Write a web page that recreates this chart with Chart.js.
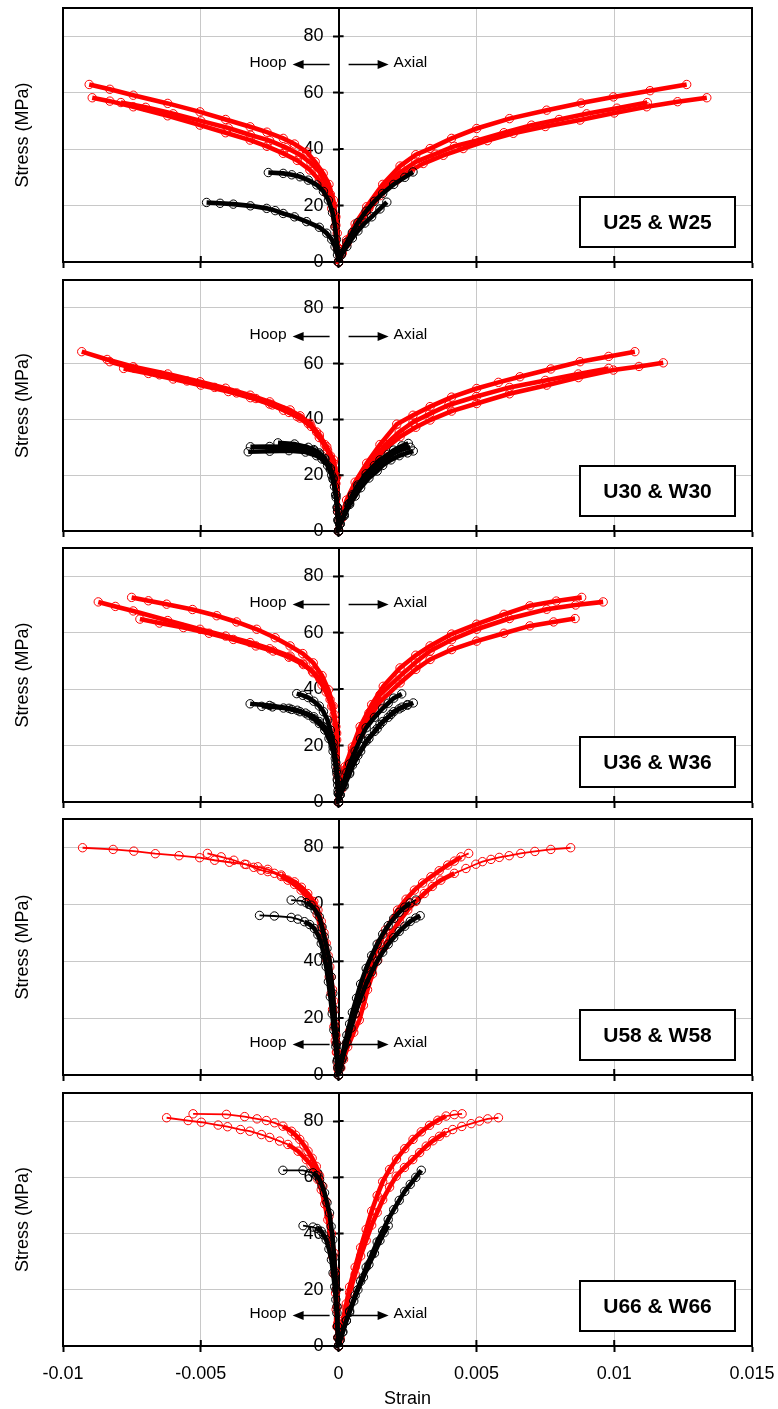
<!DOCTYPE html>
<html>
<head>
<meta charset="utf-8">
<script src="https://cdn.jsdelivr.net/npm/chart.js@4.4.1/dist/chart.umd.min.js"></script>
<style>
  body { margin: 0; background: #fff; width: 778px; height: 1409px; position: relative; overflow: hidden; }
  canvas { position: absolute; left: 0; }
</style>
</head>
<body>
<canvas id="c1"></canvas>
<canvas id="c2"></canvas>
<canvas id="c3"></canvas>
<canvas id="c4"></canvas>
<canvas id="c5"></canvas>
<script>
// axis ticks
const strainTicks = [-0.01, -0.005, 0, 0.005, 0.01, 0.015];
const stressTicks = [0, 20, 40, 60, 80];
const panelLabels = ['U25 & W25', 'U30 & W30', 'U36 & W36', 'U58 & W58', 'U66 & W66'];

// ---- U25 & W25 : [strain, stress MPa]
const red25Hoop1 = [[0,0],[-0.00002,5],[-0.00005,10.2],[-0.0001,16],[-0.00019,21.9],[-0.00035,27.5],[-0.00056,31.4],[-0.00085,35.5],[-0.00116,39],[-0.0016,41.8],[-0.00201,43.8],[-0.0026,46],[-0.00321,47.9],[-0.0041,50.5],[-0.00503,53.2],[-0.0062,56.2],[-0.00745,59.1],[-0.0083,61.2],[-0.00905,62.9]];
const red25Hoop2 = [[0,0],[-0.00004,5],[-0.00013,12.5],[-0.00025,19],[-0.00043,24.3],[-0.0007,29],[-0.00104,32.6],[-0.0015,36],[-0.00201,38.5],[-0.0026,41],[-0.00321,43.2],[-0.0041,45.8],[-0.00503,48.5],[-0.0062,51.8],[-0.00745,55],[-0.0083,57],[-0.00894,58.2]];
const red25Hoop3 = [[0,0],[-0.00003,5],[-0.0001,13],[-0.0002,20],[-0.0003,24],[-0.0005,28.5],[-0.0007,32],[-0.001,35],[-0.0014,38],[-0.0019,40.5],[-0.0025,43],[-0.0032,45],[-0.004,47.5],[-0.005,50],[-0.006,52.5],[-0.007,54.8],[-0.0079,56.5]];
const red25Axial1 = [[0,0],[0.00012,3.5],[0.00029,7.8],[0.0006,13.5],[0.00102,19.6],[0.0016,27.5],[0.00223,34],[0.0028,38],[0.00332,40.2],[0.0041,43.8],[0.00501,47.3],[0.0062,50.8],[0.00755,53.8],[0.0088,56.3],[0.00997,58.5],[0.0113,60.7],[0.01263,62.9]];
const red25Axial2 = [[0,0],[0.00012,3],[0.0003,6.5],[0.0006,11.5],[0.001,17],[0.0015,23.5],[0.00211,29],[0.0026,32.3],[0.00307,34.9],[0.0038,37.8],[0.00452,40.2],[0.0054,43],[0.00634,45.6],[0.0075,48],[0.00876,50.3],[0.01,52.8],[0.01118,55],[0.0123,56.8],[0.01336,58.2]];
const red25Axial3 = [[0,0],[0.00012,3],[0.0003,7],[0.0007,13.5],[0.0011,19],[0.0016,25.5],[0.0022,31.5],[0.0028,35.5],[0.0035,38.2],[0.0042,41],[0.005,43],[0.006,45.8],[0.007,48.5],[0.008,50.5],[0.009,52.5],[0.0101,54.5],[0.0112,56.5]];
const black25Hoop1 = [[0,0],[-0.00004,2.5],[-0.00013,5.4],[-0.00025,8],[-0.00043,10.2],[-0.0007,12.3],[-0.00116,14.3],[-0.0016,16],[-0.00201,17.2],[-0.0023,18.2],[-0.00261,19],[-0.0032,19.9],[-0.00382,20.5],[-0.0043,20.8],[-0.00479,21.1]];
const black25Hoop2 = [[0,0],[-0.00003,4],[-0.00008,8],[-0.00013,12.5],[-0.00022,17.5],[-0.00037,21.9],[-0.00055,25],[-0.00079,27.3],[-0.0011,29],[-0.0014,30.2],[-0.0017,30.9],[-0.00201,31.4],[-0.00255,31.7]];
const black25Axial1 = [[0,0],[0.0001,2.5],[0.0003,5.5],[0.0005,8.5],[0.0007,11],[0.00095,13.8],[0.0012,16],[0.0015,18.8],[0.00175,21.2]];
const black25Axial2 = [[0,0],[0.0001,3],[0.0003,7],[0.0005,10.5],[0.0007,14],[0.001,18],[0.0013,21.5],[0.0016,24.3],[0.002,27.5],[0.0024,30],[0.0027,31.9]];

// ---- U30 & W30
const red30Hoop1 = [[0,0],[-0.00002,8],[-0.00007,19.5],[-0.00018,25.5],[-0.00043,30.2],[-0.0007,34.5],[-0.00104,38.6],[-0.0014,41.3],[-0.00176,43.4],[-0.0025,46.3],[-0.00321,48.7],[-0.0041,51.2],[-0.00503,53.5],[-0.0062,56.3],[-0.00745,58.9],[-0.0084,61.5],[-0.00932,64.3]];
const red30Hoop2 = [[0,0],[-0.00003,8],[-0.0001,19],[-0.0002,24.5],[-0.0004,29],[-0.0007,33.5],[-0.001,37.5],[-0.0014,40.5],[-0.0018,42.5],[-0.0024,45.2],[-0.003,47.5],[-0.0037,49.5],[-0.0045,51.5],[-0.0055,53.8],[-0.0065,56],[-0.0074,58.3],[-0.0083,60.7]];
const red30Hoop3 = [[0,0],[-0.00003,7],[-0.0001,17],[-0.0002,22.5],[-0.0003,27],[-0.0005,31],[-0.0008,35.5],[-0.0011,38.5],[-0.0015,41],[-0.002,43.3],[-0.0025,45.5],[-0.0032,47.8],[-0.004,50],[-0.005,52.3],[-0.006,54.5],[-0.0069,56.5],[-0.0078,58.3]];
const red30Axial1 = [[0,0],[0.0001,5],[0.00029,11.1],[0.0006,17.5],[0.00102,24.3],[0.0015,31],[0.00211,38.3],[0.0027,41.5],[0.00332,44.6],[0.0041,48],[0.00501,51.1],[0.0058,53.3],[0.00658,55.3],[0.0077,58.1],[0.00876,60.7],[0.0098,62.6],[0.01075,64.3]];
const red30Axial2 = [[0,0],[0.0001,4.5],[0.0004,11],[0.0008,18.5],[0.0012,24],[0.0017,29.5],[0.00223,33.8],[0.0028,37.2],[0.00332,39.8],[0.0041,43],[0.00501,45.7],[0.0062,49.2],[0.00755,52.3],[0.0087,55],[0.00997,57.7],[0.0109,59],[0.01178,60.3]];
const red30Axial3 = [[0,0],[0.0001,4.5],[0.0004,11],[0.0008,19],[0.0012,25],[0.0017,31],[0.0022,35.5],[0.0027,39],[0.0033,42],[0.004,45.2],[0.005,48.2],[0.0062,51.5],[0.0075,54],[0.0087,56.3],[0.0098,58.3]];
const black30Hoop1 = [[0,0],[-0.00001,3.5],[-0.00004,7],[-0.00009,12],[-0.00015,16],[-0.00025,20],[-0.0004,23.5],[-0.0006,25.8],[-0.0008,27],[-0.0012,28.3],[-0.0018,28.8],[-0.0025,28.6],[-0.00328,28.4]];
const black30Hoop2 = [[0,0],[-0.00002,4],[-0.00005,8.5],[-0.0001,13],[-0.0002,18.5],[-0.0003,22],[-0.0005,25.5],[-0.0007,27.5],[-0.0009,28.8],[-0.0012,29.5],[-0.0018,30.1],[-0.0025,30.3],[-0.0032,30.2]];
const black30Hoop3 = [[0,0],[-0.00002,4],[-0.00005,8.5],[-0.0001,13],[-0.0002,19],[-0.0003,22.5],[-0.0005,26],[-0.0007,28],[-0.0009,29.2],[-0.0011,30],[-0.0016,31.2],[-0.0022,31.6]];
const black30Axial1 = [[0,0],[0.00005,2.5],[0.0002,6],[0.00035,9.5],[0.0005,13],[0.0007,16.5],[0.001,20.5],[0.0013,23.5],[0.0015,25.5],[0.0018,27.5],[0.002,29],[0.0023,30.5],[0.00253,31.4]];
const black30Axial2 = [[0,0],[0.00005,2.5],[0.0002,5.5],[0.0004,9.5],[0.0006,12.5],[0.0008,15.5],[0.0011,19],[0.0014,21.5],[0.0016,23.5],[0.0019,25.5],[0.0022,27],[0.0025,28],[0.00271,28.7]];
const black30Axial3 = [[0,0],[0.00005,2.5],[0.0002,5.5],[0.0004,10],[0.0005,12.5],[0.0007,16],[0.001,19.5],[0.0013,22.5],[0.0015,24.5],[0.0018,26.5],[0.002,27.8],[0.0023,29.2],[0.0026,30]];

// ---- U36 & W36
const red36Hoop1 = [[0,0],[-0.00002,10],[-0.00007,24.4],[-0.00016,31],[-0.00031,36.3],[-0.0006,41.5],[-0.00092,45.8],[-0.0013,49.2],[-0.00176,51.7],[-0.0025,54.3],[-0.00321,56.5],[-0.0041,58.8],[-0.00503,61.2],[-0.0062,64.3],[-0.00745,67.7],[-0.0081,69.3],[-0.00872,70.9]];
const red36Hoop2 = [[0,0],[-0.00003,12],[-0.0001,26.7],[-0.0002,34],[-0.00037,39.8],[-0.0006,44.8],[-0.00092,49.3],[-0.0013,52.6],[-0.00176,55.3],[-0.0023,58.2],[-0.00297,61.2],[-0.0037,63.8],[-0.00442,66],[-0.0053,68.2],[-0.00624,70.1],[-0.0069,71.3],[-0.00751,72.5]];
const red36Hoop3 = [[0,0],[-0.00002,9],[-0.00007,22],[-0.00015,29],[-0.00025,33.9],[-0.00045,39],[-0.00067,43.4],[-0.00095,46.3],[-0.00128,48.7],[-0.0018,51.3],[-0.00237,53.5],[-0.003,55.3],[-0.00382,57.6],[-0.0047,59.8],[-0.00563,61.8],[-0.0065,63.4],[-0.00721,64.8]];
const red36Axial1 = [[0,0],[0.0001,6],[0.00023,12.5],[0.0005,19.5],[0.00078,26.7],[0.0012,34.5],[0.00162,41],[0.00223,47.5],[0.0028,52],[0.00332,55.3],[0.0041,59.5],[0.00501,63],[0.006,66.5],[0.00694,69.5],[0.0079,71.2],[0.00882,72.5]];
const red36Axial2 = [[0,0],[0.0001,5],[0.00025,11.5],[0.0005,18.5],[0.0008,25.5],[0.0011,31.5],[0.0015,38],[0.00223,44.6],[0.0028,49.5],[0.00332,53.5],[0.0041,57.5],[0.00501,61.2],[0.0062,65],[0.00755,68.3],[0.0086,69.8],[0.0096,70.9]];
const red36Axial3 = [[0,0],[0.0001,4.5],[0.00025,10.5],[0.0005,17.5],[0.0008,24],[0.0011,29.5],[0.0015,35.5],[0.00223,42.2],[0.0028,47],[0.00332,50.5],[0.0041,54],[0.00501,57],[0.006,59.8],[0.00694,62.4],[0.0078,63.8],[0.00858,65]];
const black36Hoop1 = [[0,0],[-0.00001,3],[-0.00003,6],[-0.00006,10],[-0.0001,14],[-0.0002,19.5],[-0.0003,23],[-0.0005,26.5],[-0.0007,28.5],[-0.0009,30.2],[-0.0012,31.5],[-0.0015,32.5],[-0.0018,33.2],[-0.0025,34.2],[-0.00321,34.8]];
const black36Hoop2 = [[0,0],[-0.00002,4],[-0.00004,7.5],[-0.00007,11],[-0.00012,15.5],[-0.0002,21],[-0.0003,25.5],[-0.0004,29],[-0.00055,32],[-0.0007,34],[-0.0009,35.7],[-0.0011,37],[-0.0013,37.8],[-0.00152,38.4]];
const black36Hoop3 = [[0,0],[-0.00001,3],[-0.00005,8],[-0.0001,12.5],[-0.0002,18],[-0.00035,22.5],[-0.0005,25.5],[-0.0007,27.8],[-0.0009,29.5],[-0.0011,30.8],[-0.0014,32],[-0.0017,32.8],[-0.002,33.3],[-0.0024,33.7],[-0.00279,33.9]];
const black36Axial1 = [[0,0],[0.00005,2.5],[0.00015,6],[0.0003,10.5],[0.0004,13.5],[0.0006,18],[0.0008,22.5],[0.001,26.3],[0.0013,30],[0.0016,33.2],[0.0018,35],[0.002,36.8],[0.00229,38.3]];
const black36Axial2 = [[0,0],[0.00005,2.5],[0.0002,6],[0.0004,10.5],[0.0006,14.5],[0.0008,18],[0.0011,22.5],[0.0014,26],[0.0016,28.5],[0.0019,31],[0.0022,33],[0.0025,34.3],[0.00271,35.1]];
const black36Axial3 = [[0,0],[0.00005,2.5],[0.0002,5.5],[0.0004,10],[0.0005,13],[0.0007,16.5],[0.001,21.5],[0.0013,25],[0.0015,27.5],[0.0018,30],[0.002,32],[0.0023,33.6],[0.0025,34.5]];

// ---- U58 & W58
const red58Hoop1 = [[0,0],[-0.00002,2],[-0.00004,5],[-0.00006,8],[-0.00009,11.1],[-0.0001,14],[-0.00013,18],[-0.00015,22.8],[-0.00018,26],[-0.00022,30],[-0.00027,34.5],[-0.00032,38],[-0.00038,42],[-0.00045,46.3],[-0.00053,50],[-0.00063,54],[-0.00075,58],[-0.0009,61],[-0.00112,63.8],[-0.00135,66],[-0.0016,67.9],[-0.00208,70.3],[-0.00257,72.3],[-0.00293,73.2],[-0.00341,74.1],[-0.00396,74.8],[-0.0045,75.5],[-0.00504,76.4],[-0.00579,77.1],[-0.00665,77.8],[-0.00743,78.7],[-0.00818,79.3],[-0.00929,79.9]];
const red58Hoop2 = [[0,0],[-0.00003,3],[-0.00008,8],[-0.00012,12],[-0.00017,17],[-0.00022,23],[-0.00027,28.7],[-0.00034,34.5],[-0.00042,40.4],[-0.00052,46.5],[-0.00063,52.1],[-0.00078,56.5],[-0.00094,60.3],[-0.00115,62.8],[-0.00136,65],[-0.0016,67],[-0.00184,68.5],[-0.00208,69.8],[-0.00233,70.9],[-0.00257,71.5],[-0.00281,72],[-0.00308,73],[-0.00335,74],[-0.0038,75.5],[-0.00426,76.7],[-0.00476,77.9]];
const red58Axial1 = [[0,0],[0.00005,2.5],[0.00015,6],[0.00028,11],[0.0004,15.5],[0.0006,21.5],[0.0008,28],[0.001,34],[0.00125,41],[0.0015,46.5],[0.0017,51],[0.00214,58],[0.00245,61.8],[0.00275,65],[0.00305,67.5],[0.00335,69.7],[0.00365,71.8],[0.00396,73.8],[0.0042,75.2],[0.00444,76.7],[0.00472,77.9]];
const red58Axial2 = [[0,0],[0.00008,2.5],[0.00018,5.5],[0.00033,9.9],[0.00055,15],[0.00075,19.3],[0.0009,24.5],[0.00105,30],[0.00123,35.5],[0.00142,40.4],[0.00165,45],[0.0019,49.8],[0.0022,54],[0.00251,58],[0.0028,61],[0.00311,63.8],[0.0034,66.3],[0.00371,68.5],[0.0042,70.9],[0.00462,72.6],[0.00498,74.1],[0.00522,75],[0.00553,75.8],[0.00583,76.5],[0.00619,77.1],[0.00661,77.9],[0.00712,78.6],[0.0077,79.3],[0.00842,79.9]];
const black58Hoop1 = [[0,0],[-0.00002,2.5],[-0.00004,5.5],[-0.00008,11],[-0.00012,17],[-0.00016,23],[-0.00021,28.7],[-0.00027,34.5],[-0.00033,40.4],[-0.00042,44.5],[-0.00052,48.6],[-0.0006,52],[-0.0007,55.6],[-0.00085,58],[-0.001,59.7],[-0.00118,60.6],[-0.00136,61.2],[-0.00172,61.5]];
const black58Hoop2 = [[0,0],[-0.00002,2.5],[-0.00006,4.7],[-0.0001,10],[-0.00017,15.8],[-0.00023,21.5],[-0.0003,27.5],[-0.00037,32.8],[-0.00045,38.1],[-0.00053,42.2],[-0.00063,46.3],[-0.00075,49.3],[-0.00088,51.5],[-0.00105,52.9],[-0.00124,53.9],[-0.00148,54.8],[-0.00172,55.4],[-0.00233,55.9],[-0.00287,56.1]];
const black58Axial1 = [[0,0],[0.00004,2.5],[0.0001,5],[0.0002,10],[0.0003,14],[0.0004,18],[0.0005,22],[0.00065,27],[0.0008,32],[0.001,37.5],[0.0012,42],[0.0014,46],[0.0016,49.5],[0.0018,52.5],[0.002,55],[0.0022,57.2],[0.0024,59],[0.0026,60.5],[0.00281,61.5]];
const black58Axial2 = [[0,0],[0.00005,2.5],[0.00015,6],[0.0003,11.5],[0.00045,16.5],[0.0006,21.5],[0.0008,27],[0.001,32],[0.0012,36.3],[0.0014,40],[0.0016,43.2],[0.0018,46],[0.002,48.3],[0.0022,50.5],[0.0024,52.3],[0.0026,54],[0.0028,55.2],[0.00296,56]];

// ---- U66 & W66
const red66Hoop1 = [[0,0],[-0.00003,3],[-0.00006,6.9],[-0.00009,13],[-0.00011,18.8],[-0.00016,25.5],[-0.00021,31.8],[-0.0003,38.5],[-0.00039,44.9],[-0.0005,50.5],[-0.00063,55.6],[-0.00075,59.2],[-0.00087,62.2],[-0.001,64.5],[-0.00117,66.3],[-0.00147,69.3],[-0.00184,71.7],[-0.00214,72.9],[-0.0025,74.2],[-0.0028,75.2],[-0.00322,76.4],[-0.00356,77],[-0.00403,78],[-0.00437,78.6],[-0.00498,79.6],[-0.00546,80.2],[-0.00624,81.2]];
const red66Hoop2 = [[0,0],[-0.00001,3],[-0.00003,8],[-0.00005,14],[-0.00008,20],[-0.00012,26.5],[-0.00017,33.1],[-0.00026,40],[-0.00035,46.1],[-0.00046,51.5],[-0.00057,56.8],[-0.00069,60.5],[-0.00081,63.9],[-0.00096,66.8],[-0.00111,69.3],[-0.00126,71.5],[-0.00141,73.5],[-0.00156,75],[-0.00171,76.4],[-0.00202,78.2],[-0.00232,79.4],[-0.00262,80.2],[-0.00296,80.8],[-0.00341,81.6],[-0.00407,82.4],[-0.00528,82.6]];
const red66Axial1 = [[0,0],[0.00005,3],[0.00015,9],[0.00028,15],[0.0004,21],[0.0006,28],[0.0008,35],[0.001,41.5],[0.0012,48],[0.0014,53.5],[0.0016,58.5],[0.00185,62.8],[0.0021,66.5],[0.0024,70.2],[0.0027,73.5],[0.003,76.2],[0.0033,78.5],[0.0036,80.3],[0.0039,81.8],[0.0042,82.3],[0.00448,82.6]];
const red66Axial2 = [[0,0],[0.00005,2.5],[0.00015,8],[0.00028,13.5],[0.0004,19],[0.0006,25.5],[0.0008,32],[0.001,37.5],[0.0012,43],[0.0014,47.5],[0.0016,52],[0.00185,56.5],[0.00209,60.4],[0.00239,63.5],[0.00269,66.3],[0.00294,68.8],[0.00318,71.1],[0.00342,73],[0.00366,74.6],[0.0039,75.9],[0.00414,77],[0.00447,78.1],[0.00481,79.1],[0.00511,80],[0.00541,80.8],[0.0058,81.2]];
const black66Hoop1 = [[0,0],[-0.00002,3],[-0.00004,7],[-0.00006,14],[-0.00009,20],[-0.00012,25.9],[-0.00016,31.5],[-0.00021,37.8],[-0.00027,42.5],[-0.00033,47.3],[-0.00042,51],[-0.00051,54.5],[-0.0006,57],[-0.00069,59.2],[-0.0008,60.6],[-0.00093,61.6],[-0.00129,62.5],[-0.00202,62.5]];
const black66Hoop2 = [[0,0],[-0.00002,3],[-0.00004,7],[-0.00006,11.7],[-0.0001,16.5],[-0.00014,21.1],[-0.0002,26],[-0.00026,30.7],[-0.00035,34.5],[-0.00045,37.8],[-0.00054,39.5],[-0.00063,40.8],[-0.00078,41.8],[-0.00093,42.3],[-0.00129,42.8]];
const black66Axial1 = [[0,0],[0.00005,2],[0.00015,5],[0.00028,9],[0.0004,12.5],[0.0006,18],[0.0008,23],[0.001,28],[0.0012,32.5],[0.0014,37],[0.0016,41],[0.0018,45],[0.002,48.5],[0.0022,51.8],[0.0024,55],[0.0026,57.5],[0.0028,60],[0.003,62.5]];
const black66Axial2 = [[0,0],[0.00005,2],[0.00015,5],[0.00028,9],[0.0004,12],[0.00055,16],[0.0007,20],[0.0009,24.5],[0.0011,29],[0.0013,33],[0.0015,37.5],[0.00165,40.3],[0.0018,42.8]];

const RED = '#ff0000';
const BLACK = '#000000';
const GRID = '#c8c8c8';
const FONT = '"Liberation Sans", Arial, Helvetica, sans-serif';
const PAD = 12;

// plot box of each panel on the page, and where its Hoop/Axial arrows sit
const panels = [
  { id: 'c1', top: 8,    bottom: 262,  arrowAt: 70, dense: true,
    black: [black25Hoop1, black25Hoop2, black25Axial1, black25Axial2],
    red: [red25Hoop1, red25Hoop2, red25Hoop3, red25Axial1, red25Axial2, red25Axial3] },
  { id: 'c2', top: 280,  bottom: 531,  arrowAt: 70, dense: true,
    black: [black30Hoop1, black30Hoop2, black30Hoop3, black30Axial1, black30Axial2, black30Axial3],
    red: [red30Hoop1, red30Hoop2, red30Hoop3, red30Axial1, red30Axial2, red30Axial3] },
  { id: 'c3', top: 548,  bottom: 802,  arrowAt: 70, dense: true,
    black: [black36Hoop1, black36Hoop2, black36Hoop3, black36Axial1, black36Axial2, black36Axial3],
    red: [red36Hoop1, red36Hoop2, red36Hoop3, red36Axial1, red36Axial2, red36Axial3] },
  { id: 'c4', top: 819,  bottom: 1075, arrowAt: 11, dense: false,
    black: [black58Hoop1, black58Hoop2, black58Axial1, black58Axial2],
    red: [red58Hoop1, red58Hoop2, red58Axial1, red58Axial2] },
  { id: 'c5', top: 1093, bottom: 1346, arrowAt: 11, dense: false,
    black: [black66Hoop1, black66Hoop2, black66Axial1, black66Axial2],
    red: [red66Hoop1, red66Hoop2, red66Axial1, red66Axial2] },
];

// the logged curves are packed with overlapping markers: a thick line stands in for that,
// except on the flat, sparsely logged tails of the 58/66 curves
function segWidth(dense) {
  return (c) => {
    if (dense) return 4.6;
    const dx = Math.abs(c.p1.x - c.p0.x), dy = Math.abs(c.p1.y - c.p0.y);
    return dy > 0.5 * dx ? 4.6 : 1.8;
  };
}

function series(points, color, dense) {
  return {
    data: points.map(([x, y]) => ({ x, y })),
    showLine: true,
    borderColor: color,
    borderWidth: 2,
    segment: { borderWidth: segWidth(dense) },
    pointStyle: 'circle',
    pointRadius: 4.2,
    pointBorderWidth: 1,
    pointBorderColor: color,
    pointBackgroundColor: 'rgba(255,255,255,0)',
    clip: false,
  };
}

// axis labels sit a little left of the zero-strain axis
function fmtStress(v) {
  return String(v) + '   ';
}

function fmtStrain(v) {
  return String(Number(Number(v).toFixed(4)));
}

function arrow(ctx, fromX, toX, y) {
  const dir = Math.sign(toX - fromX);
  ctx.beginPath();
  ctx.moveTo(fromX, y);
  ctx.lineTo(toX - dir * 8, y);
  ctx.stroke();
  ctx.beginPath();
  ctx.moveTo(toX, y);
  ctx.lineTo(toX - dir * 11, y - 4.5);
  ctx.lineTo(toX - dir * 11, y + 4.5);
  ctx.closePath();
  ctx.fill();
}

function decor(panel, label) {
  return {
    id: 'decor',
    afterDraw(chart) {
      const { ctx, chartArea: a, scales: { x, y } } = chart;
      const x0 = x.getPixelForValue(0);
      ctx.save();
      ctx.strokeStyle = BLACK;
      ctx.fillStyle = BLACK;

      // top and right of the frame
      ctx.lineWidth = 2;
      ctx.beginPath();
      ctx.moveTo(a.left - 1, a.top);
      ctx.lineTo(a.right, a.top);
      ctx.lineTo(a.right, a.bottom);
      ctx.stroke();

      // inner half of the crossing tick marks
      ctx.beginPath();
      x.ticks.forEach(t => {
        const px = x.getPixelForValue(t.value);
        ctx.moveTo(px, a.bottom);
        ctx.lineTo(px, a.bottom - 6);
      });
      y.ticks.forEach(t => {
        const py = y.getPixelForValue(t.value);
        ctx.moveTo(x0, py);
        ctx.lineTo(x0 + 5, py);
      });
      ctx.stroke();

      // Hoop / Axial arrows
      const ay = Math.round(y.getPixelForValue(panel.arrowAt)) + 0.5;
      ctx.lineWidth = 1.5;
      arrow(ctx, x0 - 9, x0 - 46, ay);
      arrow(ctx, x0 + 10, x0 + 50, ay);
      ctx.font = '15.5px ' + FONT;
      ctx.textBaseline = 'alphabetic';
      ctx.textAlign = 'right';
      ctx.fillText('Hoop', x0 - 52, ay + 2);
      ctx.textAlign = 'left';
      ctx.fillText('Axial', x0 + 55, ay + 2);

      // specimen label box
      const bx = a.right - 172, bw = 155, bh = 50, by = a.bottom - 15 - bh;
      ctx.fillStyle = '#fff';
      ctx.fillRect(bx, by, bw, bh);
      ctx.lineWidth = 2;
      ctx.strokeRect(bx, by, bw, bh);
      ctx.fillStyle = BLACK;
      ctx.font = 'bold 21px ' + FONT;
      ctx.textAlign = 'center';
      ctx.textBaseline = 'middle';
      ctx.fillText(label, bx + bw / 2, by + bh / 2 + 1);
      ctx.restore();
    }
  };
}

function makePanel(panel, i) {
  const last = i === panels.length - 1;
  const bottomH = last ? 63 : 12;
  const el = document.getElementById(panel.id);
  el.width = 778;
  el.height = panel.bottom - panel.top + PAD + bottomH;
  el.style.top = (panel.top - PAD) + 'px';
  el.style.width = '778px';
  el.style.height = el.height + 'px';

  const datasets = panel.black.map(p => series(p, BLACK, panel.dense))
    .concat(panel.red.map(p => series(p, RED, panel.dense)));

  const noPad = (s) => { s.paddingTop = 0; s.paddingBottom = 0; s.paddingLeft = 0; s.paddingRight = 0; };

  return new Chart(el, {
    type: 'scatter',
    data: { datasets },
    options: {
      responsive: false,
      animation: false,
      devicePixelRatio: 1,
      layout: { padding: { top: PAD, right: 26, left: 0, bottom: 0 } },
      plugins: { legend: { display: false }, tooltip: { enabled: false } },
      scales: {
        x: {
          type: 'linear',
          min: strainTicks[0],
          max: strainTicks[strainTicks.length - 1],
          afterBuildTicks: (s) => { s.ticks = strainTicks.map(v => ({ value: v })); },
          ticks: { display: last, callback: fmtStrain, color: BLACK, padding: 11, maxRotation: 0,
                   font: { family: FONT, size: 18 } },
          grid: {
            color: (c) => (c.tick && c.tick.value === 0) ? 'rgba(0,0,0,0)' : GRID,
            lineWidth: 1, tickColor: BLACK, tickLength: 6, tickWidth: 2
          },
          border: { color: BLACK, width: 2 },
          title: { display: last, text: 'Strain', color: BLACK, padding: { top: 0, bottom: 1 },
                   font: { family: FONT, size: 18, lineHeight: 1 } },
          afterFit: (s) => { s.height = bottomH; noPad(s); }
        },
        y: {
          type: 'linear',
          position: 'left',
          min: 0, max: 90,
          afterBuildTicks: (s) => { s.ticks = stressTicks.map(v => ({ value: v })); },
          ticks: { display: false },
          grid: { color: GRID, lineWidth: 1, drawTicks: false },
          border: { color: BLACK, width: 2 },
          title: { display: true, text: 'Stress (MPa)', color: BLACK, padding: { top: 12.5, bottom: 0 },
                   font: { family: FONT, size: 18 } },
          afterFit: (s) => { s.width = 63; noPad(s); }
        },
        y0: {
          type: 'linear',
          axis: 'y',
          position: { x: 0 },
          min: 0, max: 90,
          afterBuildTicks: (s) => { s.ticks = stressTicks.map(v => ({ value: v })); },
          ticks: { color: BLACK, callback: fmtStress, font: { family: FONT, size: 18 } },
          grid: { drawOnChartArea: false, tickColor: BLACK, tickLength: 5, tickWidth: 2 },
          border: { color: BLACK, width: 2 },
          afterFit: (s) => { noPad(s); }
        }
      }
    },
    plugins: [decor(panel, panelLabels[i])]
  });
}

panels.forEach(makePanel);
</script>
</body>
</html>
